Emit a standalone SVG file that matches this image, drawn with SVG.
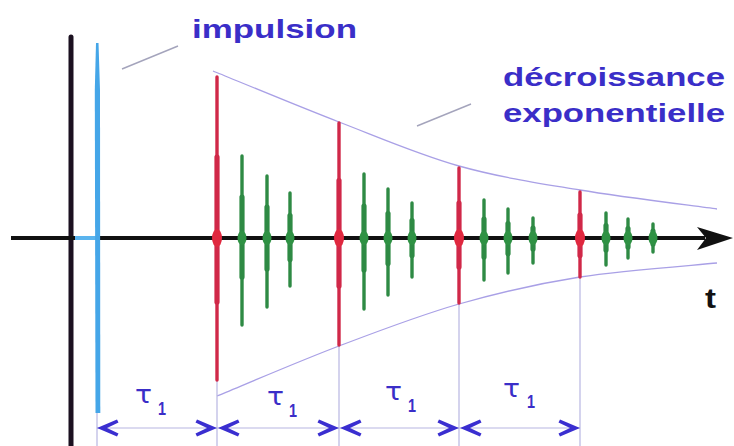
<svg xmlns="http://www.w3.org/2000/svg" width="734" height="446" viewBox="0 0 734 446">
<style>
.lbl{font-family:"Liberation Sans",Arial,sans-serif;font-weight:bold;fill:#3a2ec8}
.tau{font-family:"DejaVu Sans","Liberation Sans",sans-serif;fill:#3a2ec8}
.sub{font-family:"Liberation Sans",Arial,sans-serif;font-weight:bold;fill:#3a2ec8}
.env{fill:none;stroke:#a9a0e6;stroke-width:1.3}
.dim{fill:none;stroke:#b8b6e2;stroke-width:1.2}
.lead{stroke:#a4a4bc;stroke-width:1.4}
.chev{fill:#3a2ed0}
.red line{stroke:#d02848;stroke-linecap:round}
.red ellipse{fill:#e0283f}
.grn line{stroke:#2e8a44;stroke-linecap:round}
.grn ellipse{fill:#2f9244}
.thin{stroke-width:3.4}
.thick{stroke-width:5.2}
</style>
<defs>
<path id="chevL" d="M0,0 L20,-8.5 L21.5,-5.5 L10,0 L21.5,5.5 L20,8.5 Z"/>
</defs>
<rect width="734" height="446" fill="#ffffff"/>

<g id="labels">
<text class="lbl" x="192" y="38" font-size="26" textLength="165" lengthAdjust="spacingAndGlyphs">impulsion</text>
<text class="lbl" x="503" y="86" font-size="26" textLength="222" lengthAdjust="spacingAndGlyphs">décroissance</text>
<text class="lbl" x="503" y="122" font-size="26" textLength="222" lengthAdjust="spacingAndGlyphs">exponentielle</text>
<text x="705" y="308" font-size="28" font-weight="bold" fill="#111" font-family="Liberation Sans,Arial,sans-serif" textLength="11" lengthAdjust="spacingAndGlyphs">t</text>
</g>

<g id="connectors">
<line class="lead" x1="122" y1="69" x2="178" y2="46"/>
<line class="lead" x1="417" y1="126" x2="471" y2="104"/>
<path class="env" d="M213,71 C234,79.5 298,106.2 339,122 C380,137.8 418.8,154.7 459,166 C499.2,177.3 537,182.8 580,190 C623,197.2 694.2,205.8 717,209"/>
<path class="env" d="M217,396 C237.3,387.7 298.7,361.3 339,346 C379.3,330.7 418.8,315.5 459,304 C499.2,292.5 537,283.8 580,277 C623,270.2 694.2,265.3 717,263"/>
<line class="dim" x1="97" y1="413" x2="97" y2="446"/>
<line class="dim" x1="217" y1="380" x2="217" y2="446"/>
<line class="dim" x1="339" y1="345" x2="339" y2="446"/>
<line class="dim" x1="459" y1="303" x2="459" y2="446"/>
<line class="dim" x1="580" y1="277" x2="580" y2="446"/>
<line class="dim" x1="97" y1="428" x2="580" y2="428"/>
<g class="chev">
<use href="#chevL" transform="translate(97,428)"/>
<use href="#chevL" transform="translate(217,428) scale(-1,1)"/>
<use href="#chevL" transform="translate(218,428)"/>
<use href="#chevL" transform="translate(339,428) scale(-1,1)"/>
<use href="#chevL" transform="translate(340,428)"/>
<use href="#chevL" transform="translate(459,428) scale(-1,1)"/>
<use href="#chevL" transform="translate(460,428)"/>
<use href="#chevL" transform="translate(580,428) scale(-1,1)"/>
</g>
</g>

<g id="tau-labels">
<text class="tau" x="135" y="403" font-size="25" textLength="17" lengthAdjust="spacingAndGlyphs">τ</text>
<text class="sub" x="158" y="415" font-size="18" textLength="8" lengthAdjust="spacingAndGlyphs">1</text>
<text class="tau" x="267" y="405" font-size="25" textLength="17" lengthAdjust="spacingAndGlyphs">τ</text>
<text class="sub" x="289" y="417" font-size="18" textLength="8" lengthAdjust="spacingAndGlyphs">1</text>
<text class="tau" x="385" y="400" font-size="25" textLength="17" lengthAdjust="spacingAndGlyphs">τ</text>
<text class="sub" x="408" y="412" font-size="18" textLength="8" lengthAdjust="spacingAndGlyphs">1</text>
<text class="tau" x="503" y="397" font-size="25" textLength="17" lengthAdjust="spacingAndGlyphs">τ</text>
<text class="sub" x="527" y="408" font-size="18" textLength="8" lengthAdjust="spacingAndGlyphs">1</text>
</g>

<g id="axes">
<line x1="71" y1="37" x2="71" y2="446" stroke="#1b1020" stroke-width="5" stroke-linecap="round"/>
<line x1="11" y1="238" x2="705" y2="238" stroke="#111" stroke-width="4"/>
<path d="M697,227 L733,238 L697,250 L706,238 Z" fill="#111"/>
</g>

<g id="impulse">
<line x1="75" y1="238" x2="99" y2="238" stroke="#5ab4ee" stroke-width="4"/>
<path d="M96,43 L98.5,43 L100,90 L100.3,413 L95.5,413 L94.8,90 Z" fill="#45a6e8"/>
</g>

<g id="echo-1">
<g class="red"><line class="thin" x1="217" y1="77" x2="217" y2="380"/><line class="thick" x1="217" y1="157" x2="217" y2="302"/><ellipse cx="217" cy="238" rx="5" ry="9"/></g>
<g class="grn"><line class="thin" x1="242" y1="156" x2="242" y2="325"/><line class="thick" x1="242" y1="197" x2="242" y2="277"/><ellipse cx="242" cy="238" rx="4.5" ry="7"/></g>
<g class="grn"><line class="thin" x1="267" y1="176" x2="267" y2="307"/><line class="thick" x1="267" y1="207" x2="267" y2="269"/><ellipse cx="267" cy="238" rx="4.5" ry="7"/></g>
<g class="grn"><line class="thin" x1="290" y1="193" x2="290" y2="286"/><line class="thick" x1="290" y1="215.5" x2="290" y2="259.6"/><ellipse cx="290" cy="238" rx="4.5" ry="7"/></g>
</g>

<g id="echo-2">
<g class="red"><line class="thin" x1="339" y1="123" x2="339" y2="345"/><line class="thick" x1="339" y1="180.5" x2="339" y2="286"/><ellipse cx="339" cy="238" rx="5" ry="9"/></g>
<g class="grn"><line class="thin" x1="364" y1="174" x2="364" y2="309"/><line class="thick" x1="364" y1="206" x2="364" y2="270"/><ellipse cx="364" cy="238" rx="4.5" ry="7"/></g>
<g class="grn"><line class="thin" x1="388" y1="189" x2="388" y2="295"/><line class="thick" x1="388" y1="213.5" x2="388" y2="263.6"/><ellipse cx="388" cy="238" rx="4.5" ry="7"/></g>
<g class="grn"><line class="thin" x1="412" y1="203" x2="412" y2="277"/><line class="thick" x1="412" y1="220.5" x2="412" y2="255.5"/><ellipse cx="412" cy="238" rx="4.5" ry="7"/></g>
</g>

<g id="echo-3">
<g class="red"><line class="thin" x1="459" y1="168" x2="459" y2="303"/><line class="thick" x1="459" y1="203" x2="459" y2="267"/><ellipse cx="459" cy="238" rx="5" ry="9"/></g>
<g class="grn"><line class="thin" x1="484" y1="200" x2="484" y2="280"/><line class="thick" x1="484" y1="219" x2="484" y2="257"/><ellipse cx="484" cy="238" rx="4.5" ry="7"/></g>
<g class="grn"><line class="thin" x1="508" y1="209" x2="508" y2="273"/><line class="thick" x1="508" y1="223.5" x2="508" y2="253.8"/><ellipse cx="508" cy="238" rx="4.5" ry="7"/></g>
<g class="grn"><line class="thin" x1="533" y1="218" x2="533" y2="263"/><line class="thick" x1="533" y1="228" x2="533" y2="249"/><ellipse cx="533" cy="238" rx="4.5" ry="7"/></g>
</g>

<g id="echo-4">
<g class="red"><line class="thin" x1="580" y1="192" x2="580" y2="277"/><line class="thick" x1="580" y1="215" x2="580" y2="255.5"/><ellipse cx="580" cy="238" rx="5" ry="9"/></g>
<g class="grn"><line class="thin" x1="606" y1="213" x2="606" y2="265"/><line class="thick" x1="606" y1="225.5" x2="606" y2="250"/><ellipse cx="606" cy="238" rx="4.5" ry="7"/></g>
<g class="grn"><line class="thin" x1="628" y1="219" x2="628" y2="258"/><line class="thick" x1="628" y1="228.5" x2="628" y2="247"/><ellipse cx="628" cy="238" rx="4.5" ry="7"/></g>
<g class="grn"><line class="thin" x1="653" y1="224" x2="653" y2="252"/><line class="thick" x1="653" y1="231" x2="653" y2="244"/><ellipse cx="653" cy="238" rx="4.5" ry="7"/></g>
</g>
</svg>
